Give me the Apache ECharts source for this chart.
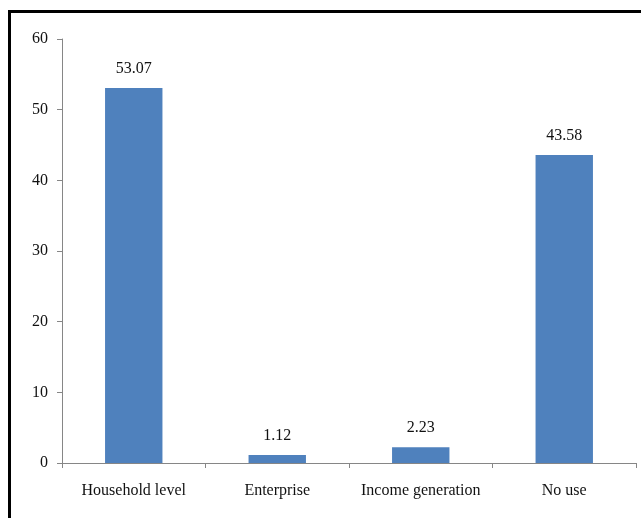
<!DOCTYPE html>
<html>
<head>
<meta charset="utf-8">
<script src="https://cdn.jsdelivr.net/npm/echarts@6/dist/echarts.min.js"></script>
<style>
html,body{margin:0;padding:0;background:#fff;}
#chart{width:641px;height:518px;}
</style>
</head>
<body>
<div id="chart"></div>
<script>
const categories = ['Household level', 'Enterprise', 'Income generation', 'No use'];
const values = [53.07, 1.12, 2.23, 43.58];
const valueLabels = ['53.07', '1.12', '2.23', '43.58'];
const yTicks = [0, 10, 20, 30, 40, 50, 60];

const chart = echarts.init(document.getElementById('chart'), null, {renderer: 'canvas'});
const font = '"Liberation Serif", "Times New Roman", serif';
chart.setOption({
  animation: false,
  backgroundColor: '#ffffff',
  graphic: [{
    type: 'rect',
    shape: {x: 9.5, y: 11.5, width: 700, height: 600},
    style: {fill: 'none', stroke: '#000', lineWidth: 3},
    silent: true
  }],
  grid: {left: 62, right: 5, top: 39, bottom: 55, containLabel: false},
  xAxis: {
    type: 'category',
    data: categories,
    axisLine: {lineStyle: {color: '#868686', width: 1}},
    axisTick: {show: true, length: 5, alignWithLabel: false, lineStyle: {color: '#868686'}},
    axisLabel: {color: '#111', fontFamily: font, fontSize: 16, margin: 20, interval: 0}
  },
  yAxis: {
    type: 'value',
    min: yTicks[0],
    max: yTicks[yTicks.length - 1],
    interval: 10,
    axisLine: {show: true, lineStyle: {color: '#868686', width: 1}},
    axisTick: {show: true, length: 5, lineStyle: {color: '#868686'}},
    splitLine: {show: false},
    axisLabel: {color: '#111', fontFamily: font, fontSize: 16, margin: 14}
  },
  series: [{
    type: 'bar',
    data: values,
    barWidth: '40%',
    itemStyle: {color: '#4F81BD'},
    label: {
      show: true,
      position: 'top',
      distance: 11,
      color: '#111',
      fontFamily: font,
      fontSize: 16,
      formatter: p => valueLabels[p.dataIndex]
    }
  }]
});
</script>
</body>
</html>
